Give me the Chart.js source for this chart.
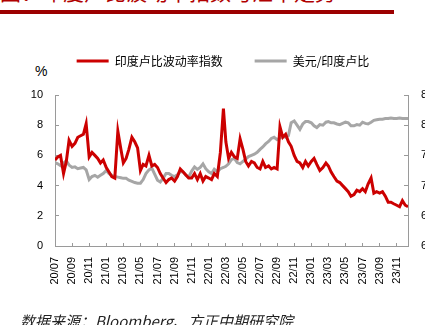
<!DOCTYPE html>
<html>
<head>
<meta charset="utf-8">
<script src="https://cdn.jsdelivr.net/npm/chart.js@4.4.1/dist/chart.umd.min.js"></script>
<style>
body { margin: 0; background: #fff; }
#wrap { position: relative; width: 425px; height: 325px; overflow: hidden; }
#c { position: absolute; left: 0; top: 0; }
.title { position: absolute; left: 0; top: -19px; font: 21px "Noto Sans CJK SC"; line-height: 21px; color: #b00000; white-space: nowrap; }
.rule { position: absolute; left: 0; top: 10px; width: 394px; height: 4px; background: #9c0000; }
.pct { position: absolute; left: 35px; top: 64px; font: 14px "Liberation Sans", Arial, sans-serif; line-height: 14px; color: #000; }
.src { position: absolute; left: 20px; top: 313px; font: italic 15px "Noto Sans CJK SC"; line-height: 15px; color: #222; white-space: nowrap; }
</style>
</head>
<body>
<div id="wrap">
  <div class="title">图：印度卢比波动率指数与汇率走势</div>
  <div class="rule"></div>
  <div class="pct">%</div>
  <canvas id="c" width="446" height="325"></canvas>
  <div class="src">数据来源：Bloomberg、方正中期研究院</div>
</div>
<script>
// x axis labels, one every 2 months starting 2020/07
var tickLabels = ['20/07', '20/09', '20/11', '21/01', '21/03', '21/05', '21/07', '21/09', '21/11',
    '22/01', '22/03', '22/05', '22/07', '22/09', '22/11', '23/01', '23/03', '23/05', '23/07',
    '23/09', '23/11'];

// sampling days of each month (1st, 11th, 21st), 2020-07-01 .. 2023-12-11
var dates = [];
for (var y = 2020; y <= 2023; y++) {
    for (var m = (y == 2020 ? 7 : 1); m <= 12; m++) {
        [1, 11, 21].forEach(function (d) {
            if (y == 2023 && m == 12 && d > 11) return;
            dates.push(y + '-' + String(m).padStart(2, '0') + '-' + String(d).padStart(2, '0'));
        });
    }
}

// 印度卢比波动率指数 (left axis, %)
var inrVol = [
    5.7, 5.9, 6.0,  4.8, 5.6, 7.0,  6.6, 6.8, 7.2,  7.3, 7.4, 8.1,
    5.9, 6.2, 6.0,  5.8, 5.5, 5.7,  5.2, 4.9, 4.6,  4.5, 7.6, 6.4,
    5.5, 5.8, 6.4,  7.2, 6.9, 6.5,  5.0, 5.4, 5.3,  6.0, 5.3, 5.4,
    5.2, 4.8, 4.5,  4.2, 4.4, 4.5,  4.3, 4.6, 5.1,  4.9, 4.7, 4.5,
    4.5, 4.8, 4.4,  4.8, 4.3, 4.6,  4.5, 4.4, 4.8,  4.6, 6.2, 9.1,
    6.9, 5.8, 6.2,  5.9, 5.8, 7.1,  6.4, 5.6, 5.3,  5.6, 5.5, 5.2,
    5.1, 5.6, 5.2,  5.3, 5.1, 5.2,  5.1, 7.9, 7.2,  7.4, 6.9, 6.6,
    6.0, 5.6, 5.5,  5.2, 5.6, 5.3,  5.6, 5.8, 5.4,  5.0, 5.2, 5.5,
    5.3, 4.9, 4.6,  4.3, 4.2, 4.0,  3.8, 3.6, 3.3,  3.4, 3.7, 3.6,
    3.8, 3.6, 4.1,  4.5, 3.5, 3.6,  3.5, 3.6, 3.3,  2.9, 2.9, 2.8,
    2.7, 2.6, 3.0,  2.7, 2.6
];

// 美元/印度卢比 (right axis)
var usdInr = [
    73.8, 73.6, 73.3,  73.7, 74.1, 73.4,  73.0, 73.1, 72.8,  72.9, 73.0, 72.6,
    71.0, 71.5, 71.7,  71.4, 71.7, 72.0,  72.5, 72.0, 71.7,  71.5, 71.4, 71.3,
    71.2, 71.2, 70.9,  70.7, 70.5, 70.4,  70.4, 71.0, 72.0,  72.6, 72.9, 71.9,
    70.9, 70.6, 71.2,  72.0, 72.0, 71.7,  71.5, 71.8, 72.3,  72.3, 71.7, 71.4,
    72.4, 73.1, 72.7,  73.0, 73.6, 72.8,  72.3, 72.0, 72.7,  72.3, 72.8, 73.0,
    73.2, 73.6, 74.3,  74.5, 73.8, 73.6,  74.0, 74.4, 74.8,  75.0, 75.2, 75.5,
    76.0, 76.4, 76.9,  77.3, 77.8, 78.0,  77.6, 77.9, 78.2,  78.0, 78.3, 80.4,
    80.7, 80.0, 79.3,  80.2, 80.6, 80.6,  80.4, 79.9, 79.6,  80.1, 80.0, 80.5,
    80.6, 80.4, 80.4,  80.2, 80.1, 80.3,  80.5, 80.4, 79.9,  79.9, 80.1, 80.0,
    80.5, 80.3, 80.2,  80.5, 80.8, 80.9,  81.0, 81.0, 81.1,  81.1, 81.2, 81.1,
    81.1, 81.2, 81.1,  81.1, 81.1
];

// months since 2020-07-01
function monthPos(s) {
    var p = s.split('-').map(Number);
    var days = new Date(p[0], p[1], 0).getDate();
    return (p[0] - 2020) * 12 + (p[1] - 7) + (p[2] - 1) / days;
}

function toPoints(values) {
    return values.map(function (v, i) { return { x: monthPos(dates[i]), y: v }; });
}

window.onload = function () {
    drawChart();
}

function drawChart() {
    Chart.defaults.font.family = '"Liberation Sans", Arial, sans-serif';
    Chart.defaults.color = '#000';
    var axisColor = '#9a9a9a';

    var ctx = document.getElementById('c').getContext('2d');
    new Chart(ctx, {
        type: 'line',
        data: {
            datasets: [{
                label: '印度卢比波动率指数',
                data: toPoints(inrVol),
                borderColor: '#cc0000',
                backgroundColor: '#cc0000',
                borderWidth: 3,
                pointRadius: 0,
                tension: 0,
                yAxisID: 'y'
            }, {
                label: '美元/印度卢比',
                data: toPoints(usdInr),
                borderColor: '#a6a6a6',
                backgroundColor: '#a6a6a6',
                borderWidth: 3,
                pointRadius: 0,
                tension: 0,
                yAxisID: 'y2'
            }]
        },
        options: {
            responsive: false,
            animation: false,
            layout: { padding: { top: 23 } },
            plugins: {
                tooltip: { enabled: false },
                legend: {
                    position: 'top',
                    labels: {
                        usePointStyle: true,
                        pointStyle: 'line',
                        pointStyleWidth: 32,
                        padding: 32,
                        color: '#000',
                        font: { size: 12, family: '"Noto Sans CJK SC", sans-serif' }
                    }
                }
            },
            scales: {
                x: {
                    type: 'linear',
                    min: 0,
                    max: 41.32,
                    border: { color: axisColor },
                    grid: { drawOnChartArea: false, tickLength: -3, color: axisColor },
                    ticks: {
                        stepSize: 2,
                        includeBounds: false,
                        autoSkip: false,
                        minRotation: 90,
                        maxRotation: 90,
                        padding: 14,
                        font: { size: 11 },
                        callback: function (v) { return tickLabels[v / 2]; }
                    },
                    afterFit: function (s) { s.height = 79; }
                },
                xTop: {
                    type: 'linear',
                    position: 'top',
                    border: { display: false },
                    grid: { display: false, drawTicks: false },
                    ticks: { display: false },
                    afterFit: function (s) { s.height = 18; }
                },
                y: {
                    position: 'left',
                    min: 0,
                    max: 10,
                    border: { color: axisColor },
                    grid: { drawOnChartArea: false, tickLength: -4, color: axisColor },
                    ticks: { stepSize: 1, padding: 16, font: { size: 11 } },
                    afterFit: function (s) { s.width = 55; }
                },
                y2: {
                    position: 'right',
                    min: 60,
                    max: 85,
                    border: { color: axisColor },
                    grid: { drawOnChartArea: false, tickLength: -4, color: axisColor },
                    ticks: { stepSize: 5, padding: 17, font: { size: 11 } },
                    afterFit: function (s) { s.width = 38; }
                }
            }
        }
    });
}
</script>
</body>
</html>
